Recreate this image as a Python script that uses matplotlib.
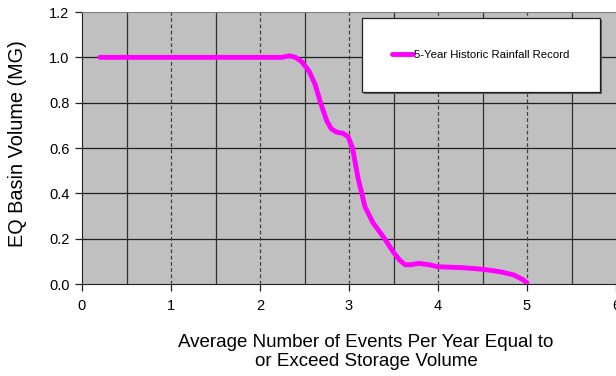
import matplotlib
matplotlib.use("Agg")
import matplotlib.pyplot as plt
from matplotlib.patches import Rectangle

plt.rcParams['font.family'] = ['Liberation Sans', 'DejaVu Sans']

# Data
events_per_year = [0.2, 1.0, 2.0, 2.25, 2.33, 2.4, 2.47, 2.55, 2.62, 2.68, 2.75, 2.8, 2.86,
                   2.93, 2.99, 3.04, 3.1, 3.18, 3.27, 3.4, 3.5, 3.57, 3.63, 3.7, 3.78,
                   3.9, 4.0, 4.28, 4.5, 4.7, 4.85, 4.95, 5.0]
basin_volume = [1.0, 1.0, 1.0, 1.0, 1.007, 1.0, 0.98, 0.94, 0.88, 0.80, 0.72, 0.685, 0.67,
                0.665, 0.65, 0.60, 0.47, 0.34, 0.27, 0.2, 0.14, 0.105, 0.085, 0.085, 0.091,
                0.085, 0.076, 0.072, 0.065, 0.054, 0.04, 0.02, 0.005]
series_name = "5-Year Historic Rainfall Record"
x_ticks = [0, 1, 2, 3, 4, 5, 6]
y_ticks = [0.0, 0.2, 0.4, 0.6, 0.8, 1.0, 1.2]
x_solid_grid = [0.5, 1.5, 2.5, 3.5, 4.5, 5.5]
x_dashed_grid = [1, 2, 3, 4, 5]

fig = plt.figure(figsize=(6.16, 3.76), dpi=100)
ax = fig.add_axes([82/616, 1 - 284/376, 534/616, 272/376])
ax.set_facecolor('#C0C0C0')
ax.set_xlim(0, 6)
ax.set_ylim(0, 1.2)

for yv in y_ticks[1:-1]:
    ax.axhline(yv, color='#202020', lw=0.9, zorder=1)
for xv in x_solid_grid:
    ax.axvline(xv, color='#303030', lw=0.9, zorder=1)
for xv in x_dashed_grid:
    ax.axvline(xv, color='#404040', lw=0.9, ls=(0, (3, 2)), zorder=1)

ax.plot(events_per_year, basin_volume, color='#FF00FF', lw=3.5,
        solid_joinstyle='round', solid_capstyle='round', zorder=3, label=series_name)

ax.set_xticks(x_ticks)
ax.set_yticks(y_ticks)
ax.set_yticklabels([f"{v:.1f}" for v in y_ticks])
ax.tick_params(axis='both', direction='out', length=5, width=0.9, color='#202020',
               labelsize=10.5, labelcolor='black')
ax.tick_params(axis='x', pad=6)
ax.tick_params(axis='y', pad=4)

ax.spines['right'].set_visible(False)
ax.spines['top'].set_color('#808080')
ax.spines['left'].set_color('#202020')
ax.spines['bottom'].set_color('#202020')

ax.set_xlabel("Average Number of Events Per Year Equal to\nor Exceed Storage Volume",
              fontsize=13.5, linespacing=1.15)
ax.xaxis.set_label_coords((366 - 82) / 534, (284 - 334) / 272)
ax.set_ylabel("EQ Basin Volume (MG)", fontsize=14.3)
ax.yaxis.set_label_coords((27 - 82) / 534, (284 - 144) / 272)

# Legend box
bx0, bx1 = (362 - 82) / 534, (600 - 82) / 534
by0, by1 = (284 - 92) / 272, (284 - 18) / 272
shadow = Rectangle((bx0 + 0.003, by0 - 0.006), bx1 - bx0, by1 - by0, transform=ax.transAxes,
                   facecolor='#606060', edgecolor='none', zorder=4)
ax.add_patch(shadow)
box = Rectangle((bx0, by0), bx1 - bx0, by1 - by0, transform=ax.transAxes,
                facecolor='white', edgecolor='#202020', lw=0.9, zorder=5)
ax.add_patch(box)
leg = ax.legend(loc='center', bbox_to_anchor=((bx0 + bx1) / 2, (by0 + by1) / 2),
                frameon=False, fontsize=8.2, handlelength=1.8, handletextpad=0.15)
leg.set_zorder(6)

fig.savefig("out.png", dpi=100)
